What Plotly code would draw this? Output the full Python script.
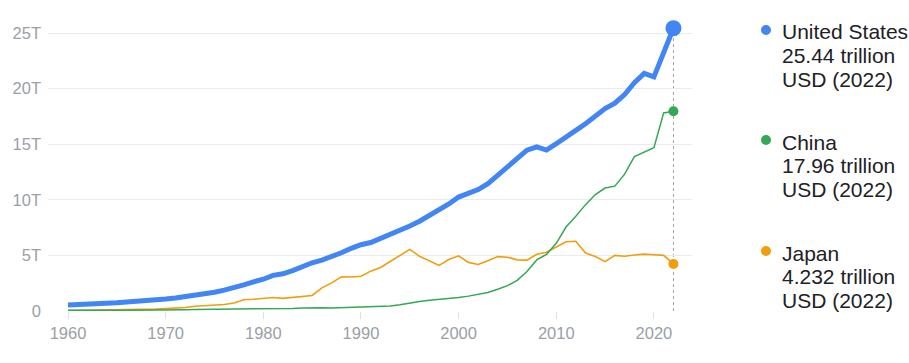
import plotly.graph_objects as go

years = list(range(1960, 2023))

us = [0.543, 0.563, 0.605, 0.638, 0.686, 0.744, 0.815, 0.862, 0.943, 1.020,
      1.073, 1.165, 1.279, 1.425, 1.545, 1.684, 1.873, 2.082, 2.352, 2.627,
      2.857, 3.207, 3.343, 3.634, 4.037, 4.339, 4.580, 4.855, 5.236, 5.642,
      5.963, 6.158, 6.520, 6.859, 7.287, 7.640, 8.073, 8.578, 9.063, 9.631,
      10.251, 10.582, 10.929, 11.457, 12.217, 13.039, 13.816, 14.474, 14.770, 14.478,
      15.049, 15.600, 16.254, 16.843, 17.551, 18.206, 18.695, 19.477, 20.533, 21.381,
      21.060, 23.315, 25.440]

china = [0.060, 0.050, 0.047, 0.051, 0.059, 0.070, 0.077, 0.073, 0.071, 0.080,
         0.093, 0.100, 0.114, 0.139, 0.144, 0.163, 0.154, 0.175, 0.150, 0.178,
         0.191, 0.196, 0.205, 0.230, 0.260, 0.309, 0.301, 0.273, 0.312, 0.348,
         0.361, 0.383, 0.427, 0.445, 0.564, 0.735, 0.864, 0.962, 1.029, 1.094,
         1.211, 1.339, 1.471, 1.660, 1.955, 2.286, 2.752, 3.550, 4.594, 5.102,
         6.087, 7.552, 8.532, 9.570, 10.476, 11.062, 11.233, 12.310, 13.895, 14.280,
         14.688, 17.821, 17.963]

japan = [0.044, 0.054, 0.061, 0.070, 0.082, 0.091, 0.106, 0.124, 0.147, 0.172,
         0.213, 0.240, 0.318, 0.432, 0.479, 0.522, 0.586, 0.722, 1.014, 1.055,
         1.106, 1.218, 1.135, 1.243, 1.318, 1.399, 2.079, 2.533, 3.072, 3.055,
         3.133, 3.584, 3.909, 4.455, 4.999, 5.546, 4.923, 4.492, 4.098, 4.636,
         4.968, 4.374, 4.183, 4.519, 4.893, 4.831, 4.601, 4.579, 5.106, 5.289,
         5.759, 6.234, 6.272, 5.212, 4.897, 4.445, 5.004, 4.931, 5.041, 5.118,
         5.056, 5.006, 4.232]

names = ["United States", "China", "Japan"]
labels = ["25.44 trillion", "17.96 trillion", "4.232 trillion"]
unit = "USD (2022)"
colors = ["#4285F4", "#34A853", "#F29D0C"]
widths = [5, 1.5, 1.6]
end_sizes = [16, 10, 10]
series = [us, china, japan]

y_ticks = [0, 5, 10, 15, 20, 25]
y_ticktext = ["0", "5T", "10T", "15T", "20T", "25T"]
x_ticks = [1960, 1970, 1980, 1990, 2000, 2010, 2020]

FONT = "'Liberation Sans', Arial, sans-serif"

fig = go.Figure()

# vertical dotted line at the last year
fig.add_shape(type="line", xref="x", yref="y",
              x0=years[-1], x1=years[-1], y0=0, y1=us[-1],
              line=dict(color="#a0a0a0", width=1, dash="dot"), layer="below")

# draw in reverse order so US is on top
for i in [2, 1, 0]:
    fig.add_trace(go.Scatter(x=years, y=series[i], mode="lines",
                             line=dict(color=colors[i], width=widths[i]),
                             name=names[i], showlegend=False, hoverinfo="skip"))
    fig.add_trace(go.Scatter(x=[years[-1]], y=[series[i][-1]], mode="markers",
                             marker=dict(color=colors[i], size=end_sizes[i]),
                             showlegend=False, hoverinfo="skip", cliponaxis=False))

# custom legend
legend_x_px = 781
dot_x_px = 766
legend_first_line = [32, 142, 253]
line_step = 23.7
W, H = 909, 363
ml, mr, mt, mb = 48, 217, 22, 52
pw, ph = W - ml - mr, H - mt - mb

def px_to_paper_x(px):
    return (px - ml) / pw

def px_to_paper_y(py):
    return (H - mb - py) / ph

for i in range(3):
    for j, txt in enumerate([names[i], labels[i], unit]):
        fig.add_annotation(xref="paper", yref="paper",
                           x=px_to_paper_x(legend_x_px),
                           y=px_to_paper_y(legend_first_line[i] + j * line_step),
                           xanchor="left", yanchor="middle", align="left", showarrow=False,
                           text=txt, borderpad=0,
                           font=dict(family=FONT, size=21, color="#202124"))
    fig.add_shape(type="circle", xref="paper", yref="paper",
                  xsizemode="pixel", ysizemode="pixel",
                  xanchor=px_to_paper_x(dot_x_px), yanchor=px_to_paper_y(legend_first_line[i] - 2),
                  x0=-5, x1=5, y0=-5, y1=5,
                  fillcolor=colors[i], line=dict(width=0))

fig.update_layout(
    width=W, height=H,
    margin=dict(l=ml, r=mr, t=mt, b=mb),
    paper_bgcolor="white", plot_bgcolor="white",
    font=dict(family=FONT, size=16, color="#9aa0a6"),
    showlegend=False,
    xaxis=dict(range=[1957.95, 2023.9], tickvals=x_ticks, showgrid=False,
               zeroline=False, showline=False, ticks="outside", ticklen=7,
               tickcolor="#e0e0e0", tickfont=dict(size=16.5, color="#9aa0a6"),
               fixedrange=True),
    yaxis=dict(range=[0, 26], tickvals=y_ticks, ticktext=y_ticktext,
               showgrid=True, gridcolor="#ebebeb", gridwidth=1,
               zeroline=False, showline=False, ticks="",
               tickfont=dict(size=16.5, color="#9aa0a6"), ticklabelstandoff=6,
               fixedrange=True),
)

fig.write_html("out.html", config={"displayModeBar": False},
               post_script="document.body.style.margin='0';document.body.style.overflow='hidden';")
